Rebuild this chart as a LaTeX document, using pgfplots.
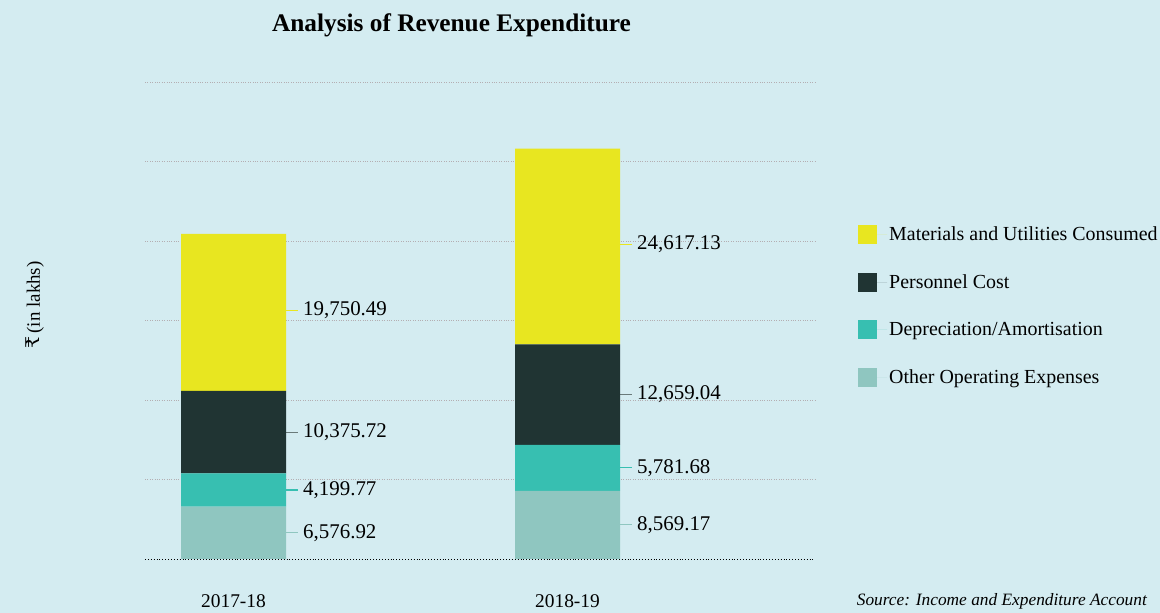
\documentclass[border=0pt]{standalone}
\usepackage{fontspec}
\setmainfont{Liberation Serif}
\newfontfamily\rupeefont{DejaVu Serif}
\usepackage{pgfplots}
\pgfplotsset{compat=1.18}
\definecolor{bg}{HTML}{D4ECF1}
\definecolor{cmat}{HTML}{E8E620}
\definecolor{cper}{HTML}{203433}
\definecolor{cdep}{HTML}{37BFB1}
\definecolor{coth}{HTML}{8FC6C0}
\definecolor{cperl}{HTML}{6A7A7A}
\definecolor{gridc}{HTML}{B4AEB2}
\tikzset{vlab/.style={anchor=west, font=\fontsize{21}{24}\selectfont, inner sep=0pt, text=black}}
\begin{document}
\begin{tikzpicture}[x=1bp,y=1bp]
\fill[bg] (0,0) rectangle (1160,613);
\useasboundingbox (0,0) rectangle (1160,613);
\node[font=\fontsize{25.4}{29}\selectfont\bfseries] at (451.5,588) {Analysis of Revenue Expenditure};
\node[rotate=90,font=\fontsize{19}{22}\selectfont] at (35,308) {{\rupeefont ₹}\,(in lakhs)};
\node[anchor=east,inner sep=0pt,font=\fontsize{17.4}{21}\selectfont\itshape] at (1147,12) {Source: Income and Expenditure Account};
\begin{axis}[
  at={(145bp,54bp)}, anchor=south west, scale only axis,
  width=670bp, height=477bp,
  xmin=145, xmax=815, ymin=0, ymax=60000,
  ybar stacked, bar width=105,
  axis line style={draw=none},
  scaled y ticks=false,
  ytick={10000,20000,30000,40000,50000,60000}, yticklabels={},
  ymajorgrids, major grid style={dotted, gridc, line width=0.7pt},
  xtick={233.5,567.5}, xticklabels={2017-18,2018-19},
  major tick length=0pt,
  xticklabel style={anchor=center, yshift=-42bp, font=\fontsize{19.5}{22}\selectfont},
  clip=false,
  legend cell align=left,
  legend style={at={(1.0642,0.7013)}, anchor=north west, draw=none, fill=none,
    inner sep=0pt, row sep=28.5bp,
    font=\fontsize{20}{24}\selectfont},
  legend image code/.code={\fill[#1,draw=none] (0bp,-9.5bp) rectangle (19bp,9.5bp); \path (0bp,0bp) -- (29bp,0bp);},
]
\addlegendimage{fill=cmat, draw=none}
\addlegendentry{Materials and Utilities Consumed}
\addlegendimage{fill=cper, draw=none}
\addlegendentry{Personnel Cost}
\addlegendimage{fill=cdep, draw=none}
\addlegendentry{Depreciation/Amortisation}
\addlegendimage{fill=coth, draw=none}
\addlegendentry{Other Operating Expenses}
\addplot[fill=coth, draw=none, forget plot] coordinates {(233.5,6576.92) (567.5,8569.17)};
\addplot[fill=cdep, draw=none, forget plot] coordinates {(233.5,4199.77) (567.5,5781.68)};
\addplot[fill=cper, draw=none, forget plot] coordinates {(233.5,10375.72) (567.5,12659.04)};
\addplot[fill=cmat, draw=none, forget plot] coordinates {(233.5,19750.49) (567.5,24617.13)};
\draw[dotted, black, line width=0.9pt] (axis cs:145,0) -- (axis cs:815,0);
\draw[coth, line width=1.1pt] (axis cs:286,3288) -- (axis cs:298,3288);
\node[vlab] at (axis cs:303,3288) {6,576.92};
\draw[cdep, line width=1.1pt] (axis cs:286,8677) -- (axis cs:298,8677);
\node[vlab] at (axis cs:303,8677) {4,199.77};
\draw[cperl, line width=1.1pt] (axis cs:286,15965) -- (axis cs:298,15965);
\node[vlab] at (axis cs:303,15965) {10,375.72};
\draw[cmat, line width=1.1pt] (axis cs:286,31300) -- (axis cs:298,31300);
\node[vlab] at (axis cs:303,31300) {19,750.49};
\draw[coth, line width=1.1pt] (axis cs:620,4285) -- (axis cs:632,4285);
\node[vlab] at (axis cs:637,4285) {8,569.17};
\draw[cdep, line width=1.1pt] (axis cs:620,11460) -- (axis cs:632,11460);
\node[vlab] at (axis cs:637,11460) {5,781.68};
\draw[cperl, line width=1.1pt] (axis cs:620,20680) -- (axis cs:632,20680);
\node[vlab] at (axis cs:637,20680) {12,659.04};
\draw[cmat, line width=1.1pt] (axis cs:620,39540) -- (axis cs:632,39540);
\node[vlab] at (axis cs:637,39540) {24,617.13};
\end{axis}
\end{tikzpicture}
\end{document}
